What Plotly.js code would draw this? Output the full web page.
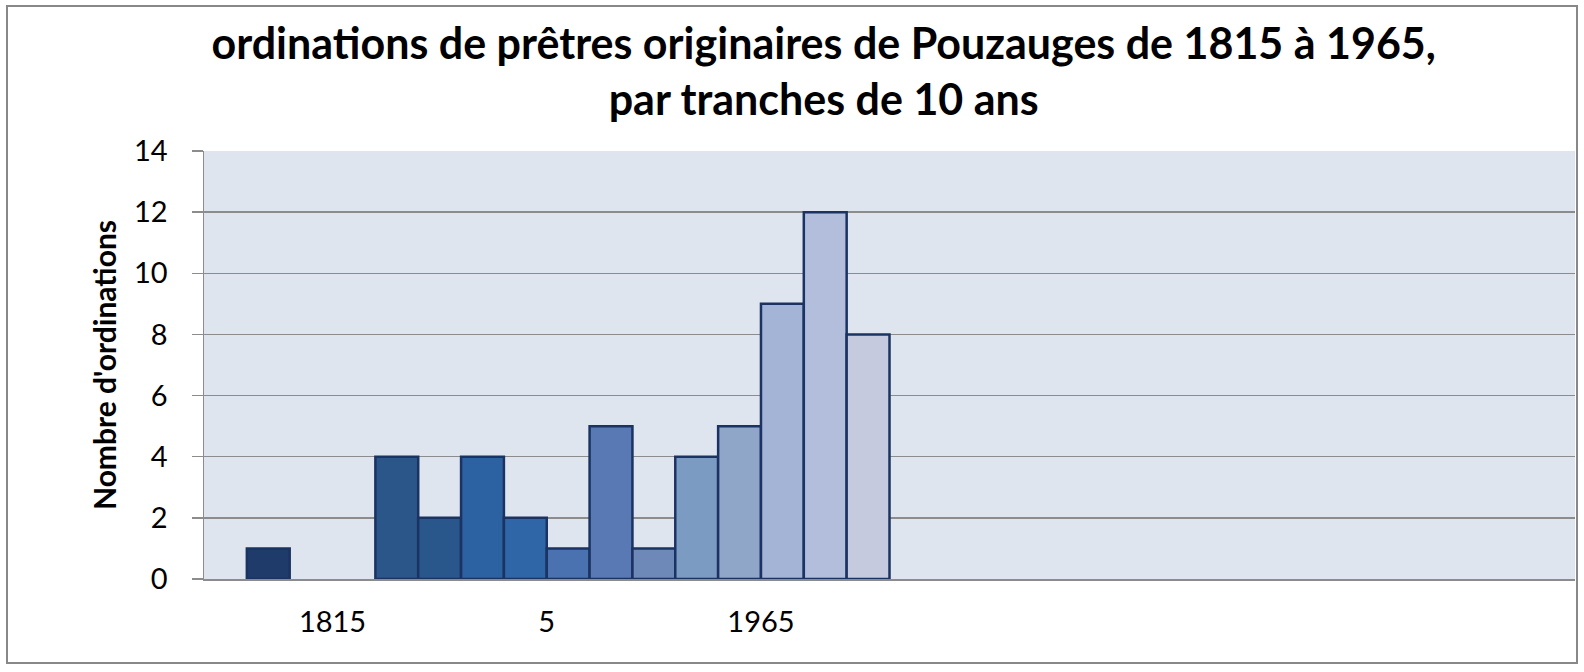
<!DOCTYPE html>
<html>
<head>
<meta charset="utf-8">
<script src="https://cdn.plot.ly/plotly-3.0.1.min.js"></script>
<style>
	body { margin: 0; background: #ffffff; }
	#cadre { position: relative; width: 1584px; height: 672px; }
	#myChart { width: 1584px; height: 672px; }
	#bordure {
		position: absolute; left: 6px; top: 5px; width: 1572px; height: 659px;
		border: 2px solid #888888; box-sizing: border-box; pointer-events: none;
	}
</style>
</head>
<body>
<div id="cadre">
	<div id="myChart"></div>
	<div id="bordure"></div>
</div>
<script>
// tranches de 10 ans, de 1815 à 1965
const tranches = ['1815', '1825', '1835', '1845', '1855', '1865', '1875', '1885',
	'1895', '1905', '1915', '1925', '1935', '1945', '1955'];
const ordinations = [1, 0, 0, 4, 2, 4, 2, 1, 5, 1, 4, 5, 9, 12, 8];
const couleurs = ['#1f3b6a', '#24497c', '#274f84', '#2a568a', '#2a578b', '#2c62a2', '#2e66a8',
	'#4a71b0', '#5879b3', '#6e88b8', '#7c9bc3', '#8fa6c9', '#a4b4d6', '#b2bedb', '#c6cadf'];

// étiquettes de l'axe des catégories (comme dans le graphique d'origine)
const etiquettesX = ['1815', '5', '1965'];
const positionsEtiquettes = [3, 8, 13];

const nbCases = 32;      // nombre de cases sur l'axe horizontal
const premiereCase = 1;  // la première tranche est dans la 2e case

function gerarGrafico(){
	const xBarres = tranches.map((t, i) => premiereCase + i + 0.5);
	const largeursTrait = ordinations.map(v => v > 0 ? 2.5 : 0);

	const trace = {
		x: xBarres,
		y: ordinations,
		customdata: tranches,
		type: 'bar',
		width: 1,
		textposition: 'none',
		marker: {
			color: couleurs,
			line: {color: '#1b3362', width: largeursTrait}
		},
		hovertemplate: '%{customdata} : %{y}<extra></extra>'
	};

	const layout = {
		width: 1584,
		height: 672,
		margin: {l: 204, r: 9, t: 151, b: 93},
		paper_bgcolor: '#ffffff',
		plot_bgcolor: '#dfe5ef',
		showlegend: false,
		font: {family: 'Lato, "Open Sans", sans-serif', color: '#000000'},
		title: {
			text: '<b>ordinations de prêtres originaires de Pouzauges de 1815 à 1965,<br>par tranches de 10 ans</b>',
			font: {family: 'Lato, "Open Sans", sans-serif', size: 43, color: '#000000'},
			x: 0.52, xref: 'container', xanchor: 'center',
			y: 0.912, yref: 'container', yanchor: 'top'
		},
		xaxis: {
			range: [0, nbCases],
			tickmode: 'array',
			tickvals: positionsEtiquettes,
			ticktext: etiquettesX,
			tickfont: {size: 29, color: '#000000'},
			ticks: 'outside', ticklen: 16, tickcolor: 'rgba(0,0,0,0)',
			showgrid: false, zeroline: false,
			showline: true, linecolor: '#8c8c8c', linewidth: 2,
			fixedrange: true
		},
		yaxis: {
			range: [0, 14],
			dtick: 2,
			tickfont: {size: 29, color: '#000000'},
			ticks: 'outside', ticklen: 11, tickcolor: '#8c8c8c', tickwidth: 1.5,
			ticklabelstandoff: 18,
			showgrid: true, gridcolor: '#8c8c8c', gridwidth: 1.5,
			zeroline: false,
			showline: true, linecolor: '#8c8c8c', linewidth: 1.5,
			title: {
				text: '<b>Nombre d\'ordinations</b>',
				font: {size: 30, color: '#000000'},
				standoff: 8
			},
			fixedrange: true
		},
		bargap: 0
	};

	Plotly.newPlot('myChart', [trace], layout, {displayModeBar: false, staticPlot: true});
}

gerarGrafico();
</script>
</body>
</html>
